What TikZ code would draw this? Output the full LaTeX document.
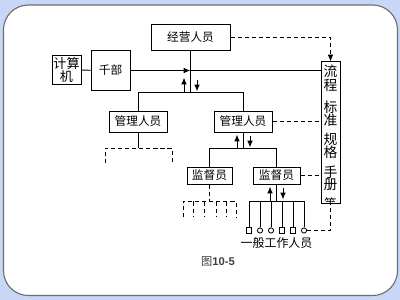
\documentclass[tikz,border=0pt]{standalone}
\usepackage{fontspec}
\setmainfont{Noto Sans CJK SC}
\setsansfont{Liberation Sans}
\usepackage{tikz}
\usetikzlibrary{arrows.meta,positioning,calc}
\definecolor{pagebg}{HTML}{C8D6F8}
\definecolor{framegray}{HTML}{6E6E6E}
\tikzset{
  unit/.style   = {draw,line width=0.7pt,inner sep=1pt,align=center,
                   font=\fontsize{8.3}{10}\selectfont},
  ln/.style     = {line width=0.7pt},
  dashln/.style = {line width=0.7pt,dash pattern=on 3pt off 2pt},
  ptr/.style    = {-{Latex[length=1.7mm,width=1.4mm]},line width=0.7pt},
  tip/.style    = {draw,line width=0.6pt,fill=white,minimum size=1.3mm,
                   inner sep=0pt},
}

\begin{document}
\begin{tikzpicture}[x=0.025cm,y=-0.025cm]
  % Page and card
  \fill[pagebg] (0,0) rectangle (400,300);
  \draw[framegray,line width=0.8pt,fill=white,rounded corners=0.62cm]
       (3.5,5) rectangle (397.5,295.5);
  \useasboundingbox (0,0) rectangle (400,300);
  % Boxes
  \node[unit,minimum width=1.975cm,minimum height=0.625cm] (jy) at (190.5,37.5) {经营人员};
  \node[unit,minimum width=0.725cm,minimum height=0.7cm,
        font=\fontsize{9.3}{9.6}\selectfont] (jsj) at (66.5,70) {计算\\机};
  \node[unit,minimum width=0.975cm,minimum height=0.975cm] (gb) at (110.5,70.5) {千部};
  \node[unit,minimum width=1.45cm,minimum height=0.525cm] (gl) at (138,121.5) {管理人员};
  \node[unit,minimum width=1.45cm,minimum height=0.525cm] (gr) at (243,121.5) {管理人员};
  \node[unit,minimum width=1.125cm,minimum height=0.425cm] (jl) at (209.5,175.5) {监督员};
  \node[unit,minimum width=1.175cm,minimum height=0.425cm] (jr) at (276.5,175.5) {监督员};
  \node[unit,minimum width=0.475cm,minimum height=3.525cm] (col) at (330.5,132.5) {};
  % Column text
  \begin{scope}
    \clip (col.north west) rectangle (col.south east);
    \foreach \ch/\y in {流/71,程/85,标/107,准/120,规/139,格/152,手/172,册/185}
      \node[font=\fontsize{9.8}{10}\selectfont,inner sep=0pt] at (col.center |- 0,\y) {\ch};
    \node[font=\fontsize{9}{10}\selectfont,inner sep=0pt] at (col.center |- 0,204) {等};
  \end{scope}
  % Top trunk
  \coordinate (hub) at (jy.south |- gb.east);
  \coordinate (b1) at ($(jy.south)+(0,42)$);
  \draw[ln] (jsj) -- (gb);
  \draw[ptr] (gb) -- (hub);
  \draw[ln] (hub) -- (col.west |- hub);
  \draw[ln] (jy) -- (b1);
  \draw[ln] (gl) |- (b1) -| (gr);
  \draw[ptr] ($(b1)+(-6.5,0)$) -- ++(0,-15);
  \draw[ptr] ($(b1)+(6.5,-12)$) -- ++(0,11);
  % Left manager
  \coordinate (b3) at ($(gl.south)+(0,16)$);
  \draw[ln] (gl) -- (b3);
  \draw[dashln] ($(b3)+(-33,15)$) |- ($(b3)+(34,0)$) -- ++(0,15);
  % Right manager
  \coordinate (b2) at ($(gr.south)+(0,16)$);
  \draw[ln] (gr) -- (b2);
  \draw[ln] (jl) |- (b2) -| (jr);
  \draw[ptr] ($(b2)+(-6,0)$) -- ++(0,-14);
  \draw[ptr] ($(b2)+(7,-12)$) -- ++(0,11);
  % Left supervisor
  \coordinate (b4) at ($(jl.south)+(0,17)$);
  \draw[dashln] (jl) -- (b4);
  \draw[dashln] ($(b4)+(-26.5,16)$) |- ($(b4)+(26.5,0)$) -- ++(0,16);
  \foreach \dx in {-16,-5.5,6.5,17}
    \draw[dashln] ($(b4)+(\dx,0)$) -- ++(0,16);
  % Right supervisor and workers
  \coordinate (b5) at ($(jr.south)+(0,17)$);
  \draw[ln] (jr) -- (b5);
  \foreach \i/\shp in {1/rectangle,2/circle,3/circle,4/rectangle,5/rectangle,6/circle}{
    \node[tip,\shp] (w\i) at ($(b5)+(-38.5+11*\i,29)$) {};
    \draw[ln] (w\i) -- (w\i |- b5);
  }
  \draw[ln] (w1 |- b5) -- (w6 |- b5);
  \draw[ptr] ($(b5)+(-6.5,0)$) -- ++(0,-15);
  \draw[ptr] ($(b5)+(6.5,-13)$) -- ++(0,11);
  \node[font=\fontsize{8.5}{10}\selectfont] (staff) at ($(w3)!0.5!(w4)+(0,12)$) {一般工作人员};
  % Dashed links to the manual column
  \draw[dashln,-{Latex[length=1.7mm,width=1.4mm]}] (jy) -| (col);
  \draw[dashln] (gr) -- (col.west |- gr);
  \draw[dashln] (jr) -- (col.west |- jr);
  \draw[dashln] (w6) -| (col);
  % Caption
  \node[font=\fontsize{8}{10}\selectfont,text=black!75] (cap) at (218,261)
       {图{\sffamily\bfseries 10-5}};
\end{tikzpicture}
\end{document}
